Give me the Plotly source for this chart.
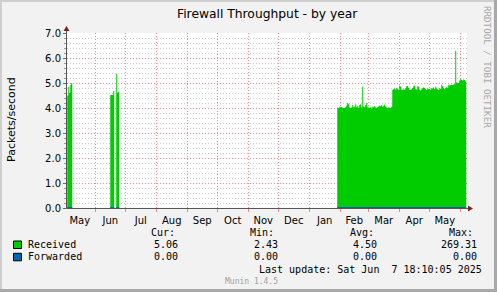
import plotly.graph_objects as go
import pandas as pd

# ---------------- data ----------------
x_range = ["2024-05-03 18:10", "2025-06-07 18:10"]

received_seg1_start = "2024-05-04"
received_seg1 = [4.50, 4.85, 4.60, 4.93, 5.00]
received_seg2_start = "2024-06-16"
received_seg2 = [4.52, 4.52, 4.52, 4.69]
received_seg3_start = "2024-06-22"
received_seg3 = [5.37, 4.62, 4.65]
received_seg4_start = "2025-01-29"
received_jan25 = [4.02, 4.00, 4.05]
received_feb25 = [4.03, 4.04, 4.01, 3.98, 4.01, 4.03, 4.10, 4.20, 4.15, 4.02,
                  4.00, 4.02, 4.12, 4.03, 4.06, 4.15, 4.03, 4.09, 4.01, 4.12,
                  4.15, 4.02, 4.86, 4.06, 4.03, 4.12, 4.20, 4.03]
received_mar25 = [4.02, 4.00, 4.04, 3.98, 4.05, 4.03, 4.08, 4.02, 4.00, 4.04,
                  4.06, 4.10, 4.07, 4.12, 4.05, 4.08, 4.14, 4.06, 4.02, 3.99,
                  4.03, 4.01, 4.00, 4.05, 4.73, 4.75, 4.78, 4.74, 4.80, 4.76, 4.72]
received_apr25 = [4.90, 4.85, 4.73, 4.73, 4.75, 4.73, 4.80, 4.87, 4.87, 4.80,
                  4.73, 4.73, 4.75, 4.80, 4.87, 4.90, 4.75, 4.73, 4.87, 4.85,
                  4.73, 4.70, 4.75, 4.80, 4.83, 4.80, 4.75, 4.73, 4.78, 4.75]
received_may25 = [4.76, 4.73, 4.80, 4.78, 4.82, 4.75, 4.85, 4.78, 4.74, 4.72,
                  4.80, 4.76, 4.93, 4.87, 4.80, 4.75, 4.80, 4.85, 4.80, 4.93,
                  4.90, 4.92, 4.93, 4.92, 4.94, 4.95, 6.29, 5.02, 4.98, 5.00, 5.10]
received_jun25 = [5.16, 5.12, 5.10, 5.14, 5.12, 5.06]
received_seg4 = (received_jan25 + received_feb25 + received_mar25 +
                 received_apr25 + received_may25 + received_jun25)

forwarded_value = 0.0

series_names = ["Received", "Forwarded"]
series_colors = ["#00CC00", "#0066B3"]
stat_headers = ["Cur:", "Min:", "Avg:", "Max:"]
received_stats = ["5.06", "2.43", "4.50", "269.31"]
forwarded_stats = ["0.00", "0.00", "0.00", "0.00"]

y_minor_ticks = [v / 5 for v in range(0, 36) if v % 5 != 0]

title_text = "Firewall Throughput - by year"
y_title = "Packets/second"
last_update = "Last update: Sat Jun \u00a07 18:10:05 2025"
footer = "Munin 1.4.5"
side_text = "RRDTOOL / TOBI OETIKER"

# ---------------- layout geometry ----------------
W, H = 497, 292
L, R = 67, 467
T, B = 33, 208


def xp(px):
    return (px - L) / (R - L)


def yp(py):
    return (B - py) / (B - T)


segments = [
    (received_seg1_start, received_seg1),
    (received_seg2_start, received_seg2),
    (received_seg3_start, received_seg3),
    (received_seg4_start, received_seg4),
]

fig = go.Figure()
for start, vals in segments:
    xs = pd.date_range(start, periods=len(vals) + 1, freq="D")
    ys = list(vals) + [vals[-1]]
    fig.add_trace(go.Scatter(x=xs, y=ys, mode="lines", line=dict(shape="hv", width=0, color=series_colors[0]),
                             fill="tozeroy", fillcolor=series_colors[0], showlegend=False, hoverinfo="skip"))
for start, vals in segments:
    xs = pd.date_range(start, periods=len(vals) + 1, freq="D")
    fig.add_trace(go.Scatter(x=xs, y=[forwarded_value] * len(xs), mode="lines",
                             line=dict(width=2, color=series_colors[1]), showlegend=False, hoverinfo="skip"))

major_grid = "rgb(242,135,135)"
minor_grid = "#CACACA"

fig.update_xaxes(
    type="date", range=x_range, dtick="M1", tick0="2024-06-01", ticklabelmode="period",
    tickformat="%b", showgrid=True, gridcolor=major_grid, griddash="1px,2px", gridwidth=1,
    ticks="outside", ticklen=3, tickcolor=major_grid, showline=False, zeroline=False,
    tickfont=dict(family="DejaVu Sans", size=10, color="black"),
)
fig.update_yaxes(
    range=[0, 7], dtick=1, tick0=0, tickformat=".1f", showgrid=True, gridcolor=major_grid,
    griddash="1px,2px", ticks="outside", ticklen=3, tickcolor="#666666", zeroline=False, showline=False,
    tickfont=dict(family="DejaVu Sans", size=10, color="black"),
    minor=dict(tickmode="array", tickvals=y_minor_ticks, showgrid=True, gridcolor=minor_grid,
               griddash="1px,2px", ticks="outside", ticklen=2, tickcolor="#999999"),
)

shapes = []
# frame shading
shapes.append(dict(type="rect", xref="paper", yref="paper", x0=xp(0), x1=xp(2), y0=yp(H), y1=yp(0),
                   fillcolor="#CFCFCF", line=dict(width=0), layer="above"))
shapes.append(dict(type="rect", xref="paper", yref="paper", x0=xp(0), x1=xp(W), y0=yp(2), y1=yp(0),
                   fillcolor="#CFCFCF", line=dict(width=0), layer="above"))
shapes.append(dict(type="rect", xref="paper", yref="paper", x0=xp(W - 3), x1=xp(W), y0=yp(H), y1=yp(0),
                   fillcolor="#A8A8A8", line=dict(width=0), layer="above"))
shapes.append(dict(type="rect", xref="paper", yref="paper", x0=xp(0), x1=xp(W), y0=yp(H), y1=yp(H - 3),
                   fillcolor="#A8A8A8", line=dict(width=0), layer="above"))
# axes
shapes.append(dict(type="line", xref="paper", yref="paper", x0=xp(66.5), x1=xp(66.5), y0=yp(208.5), y1=yp(30),
                   line=dict(color="#555555", width=1), layer="above"))
shapes.append(dict(type="line", xref="paper", yref="paper", x0=xp(66.5), x1=xp(469), y0=yp(208.5), y1=yp(208.5),
                   line=dict(color="#555555", width=1), layer="above"))
shapes.append(dict(type="path", xref="paper", yref="paper",
                   path=f"M {xp(63.5)} {yp(31)} L {xp(66.5)} {yp(26)} L {xp(69.5)} {yp(31)} Z",
                   fillcolor="#801F1F", line=dict(width=0), layer="above"))
shapes.append(dict(type="path", xref="paper", yref="paper",
                   path=f"M {xp(468)} {yp(205.5)} L {xp(473)} {yp(208.5)} L {xp(468)} {yp(211.5)} Z",
                   fillcolor="#801F1F", line=dict(width=0), layer="above"))
# legend swatches
for i, c in enumerate(series_colors):
    y0 = 241 + i * 12.3
    shapes.append(dict(type="rect", xref="paper", yref="paper", x0=xp(13.5), x1=xp(21.5),
                       y0=yp(y0 + 7.5), y1=yp(y0), fillcolor=c, line=dict(color="black", width=1)))

mono = dict(family="DejaVu Sans Mono", size=10, color="black")
ann = []


def add_text(text, px, py, anchor="left", font=mono, angle=0, yanchor="middle"):
    ann.append(dict(text=text, x=xp(px), y=yp(py), xref="paper", yref="paper", showarrow=False,
                    xanchor=anchor, yanchor=yanchor, font=font, textangle=angle, borderpad=0))


add_text(title_text, 267, 14, "center", dict(family="DejaVu Sans", size=12.3, color="black"))
add_text(y_title, 11, 119, "center", dict(family="DejaVu Sans", size=11, color="black"), -90)
add_text(side_text, 488, 5, "center", dict(family="DejaVu Sans Mono", size=9.2, color="#A8A8A8"), 90, "top")

header_x = [150, 249, 349, 447.7]
for h, x in zip(stat_headers, header_x):
    add_text(h, x, 232.7)
value_right = [179, 279.3, 378.3, 477.7]
rows = [received_stats, forwarded_stats]
for i, name in enumerate(series_names):
    yy = 244.3 + i * 12.3
    add_text(name, 26.7, yy)
    for v, x in zip(rows[i], value_right):
        add_text(v, x, yy, "right")
add_text(last_update, 483.3, 269, "right")
add_text(footer, 224, 281, "left", dict(family="DejaVu Sans Mono", size=8, color="#A0A0A0"))

fig.update_layout(
    width=W, height=H, autosize=False,
    margin=dict(l=L, r=W - R, t=T, b=H - B, pad=0),
    paper_bgcolor="#F2F2F2", plot_bgcolor="#FFFFFF",
    shapes=shapes, annotations=ann, showlegend=False,
)

fig.write_html("out.html")
